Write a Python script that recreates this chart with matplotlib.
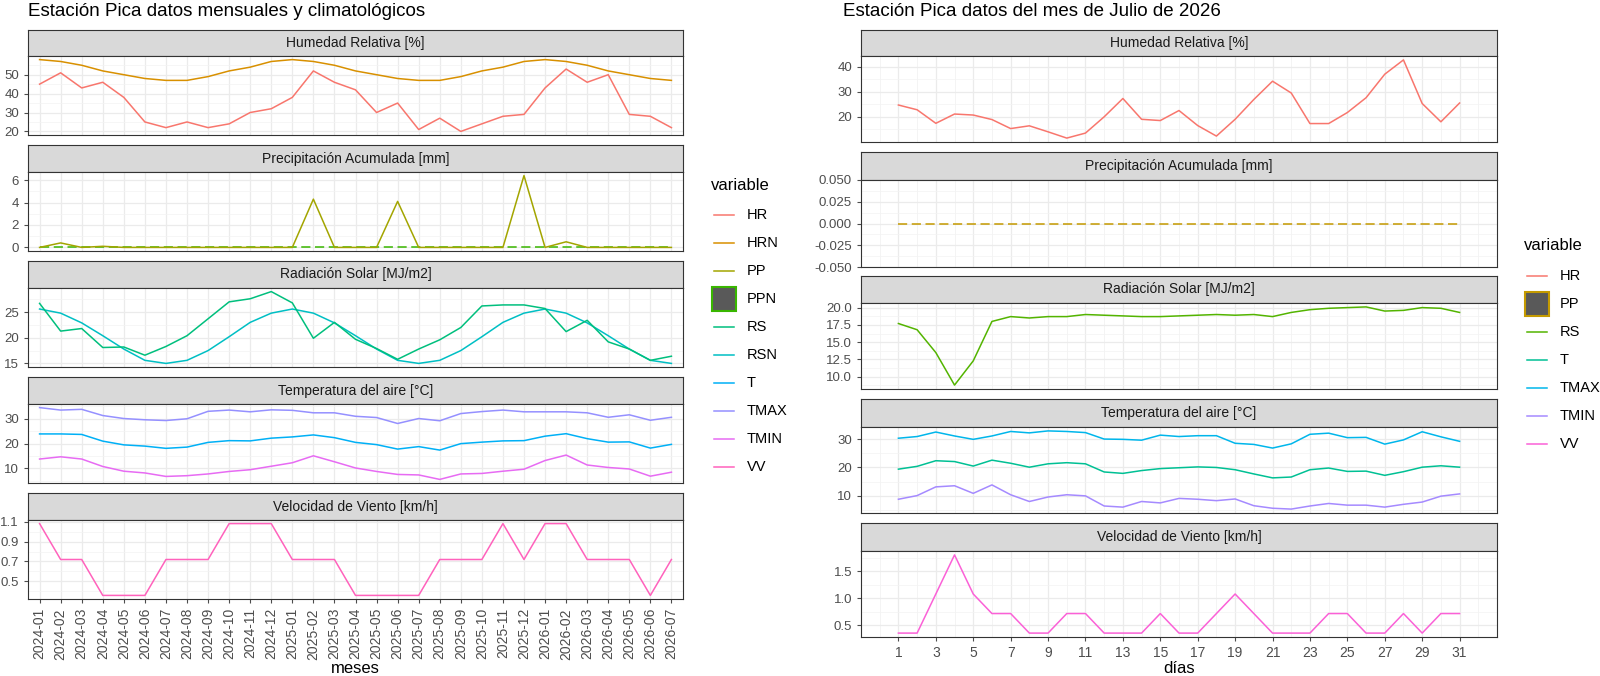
import matplotlib
matplotlib.use("Agg")
import matplotlib.pyplot as plt
from matplotlib.patches import Rectangle
from matplotlib.lines import Line2D
from matplotlib.ticker import MultipleLocator, FixedLocator

plt.rcParams['font.family'] = ['Liberation Sans', 'DejaVu Sans']

# ---- datos mensuales ----
meses = ['2024-01', '2024-02', '2024-03', '2024-04', '2024-05', '2024-06', '2024-07', '2024-08',
         '2024-09', '2024-10', '2024-11', '2024-12', '2025-01', '2025-02', '2025-03', '2025-04',
         '2025-05', '2025-06', '2025-07', '2025-08', '2025-09', '2025-10', '2025-11', '2025-12',
         '2026-01', '2026-02', '2026-03', '2026-04', '2026-05', '2026-06', '2026-07']
hr_m = [45, 51, 43, 46, 38, 25, 22, 25, 22, 24, 30, 32, 38, 52, 46, 42, 30, 35, 21, 27, 20, 24,
        28, 29, 43, 53, 46, 50, 29, 28, 22]
hrn_m = [58, 57, 55, 52, 50, 48, 47, 47, 49, 52, 54, 57, 58, 57, 55, 52, 50, 48, 47, 47, 49, 52,
         54, 57, 58, 57, 55, 52, 50, 48, 47]
pp_m = [0, 0.4, 0, 0.1, 0, 0, 0, 0, 0, 0, 0, 0, 0, 4.3, 0, 0, 0, 4.1, 0, 0, 0, 0, 0, 6.4, 0, 0.5,
        0, 0, 0, 0, 0]
ppn_m = [0] * 31
rs_m = [26.7, 21.3, 21.8, 18.1, 18.2, 16.6, 18.3, 20.4, 23.7, 27.0, 27.6, 29.0, 26.8, 19.9, 23.0,
        19.7, 17.9, 15.8, 17.8, 19.6, 22.0, 26.2, 26.4, 26.4, 25.7, 21.2, 23.4, 19.2, 17.8, 15.6, 16.4]
rsn_m = [25.6, 24.8, 22.9, 20.4, 17.8, 15.6, 15.0, 15.6, 17.5, 20.2, 23.0, 24.8, 25.6, 24.8, 22.9,
         20.4, 17.8, 15.6, 15.0, 15.6, 17.5, 20.2, 23.0, 24.8, 25.6, 24.8, 22.9, 20.4, 17.8, 15.6, 15.0]
tmax_m = [34.5, 33.5, 33.8, 31.3, 30.1, 29.6, 29.3, 30.0, 33.0, 33.5, 32.8, 33.6, 33.4, 32.4, 32.4,
          31.0, 30.5, 28.1, 30.1, 29.2, 32.1, 32.9, 33.5, 32.8, 32.8, 32.8, 32.4, 30.6, 31.6, 29.4, 30.6]
t_m = [23.9, 23.9, 23.7, 21.0, 19.5, 19.0, 18.1, 18.6, 20.5, 21.2, 21.1, 22.2, 22.7, 23.5, 22.4,
       20.5, 19.6, 17.8, 18.8, 17.4, 20.0, 20.6, 21.1, 21.2, 23.0, 24.0, 22.0, 20.6, 20.7, 18.2, 19.7]
tmin_m = [13.8, 14.7, 13.8, 10.8, 8.9, 8.2, 6.8, 7.1, 7.8, 8.8, 9.5, 10.9, 12.3, 15.1, 12.7, 10.2,
          8.8, 7.6, 7.4, 5.6, 7.8, 8.0, 8.9, 9.7, 13.2, 15.4, 11.4, 10.4, 9.8, 6.9, 8.5]
vv_m = [1.08, 0.72, 0.72, 0.36, 0.36, 0.36, 0.72, 0.72, 0.72, 1.08, 1.08, 1.08, 0.72, 0.72, 0.72,
        0.36, 0.36, 0.36, 0.36, 0.72, 0.72, 0.72, 1.08, 0.72, 1.08, 1.08, 0.72, 0.72, 0.72, 0.36, 0.72]

# ---- datos diarios julio 2026 ----
dias = list(range(1, 32))
hr_d = [24.7, 22.8, 17.4, 21.1, 20.7, 18.9, 15.3, 16.4, 14.0, 11.5, 13.5, 20.0, 27.3, 19.0, 18.5,
        22.5, 16.5, 12.3, 19.0, 26.9, 34.2, 29.5, 17.3, 17.3, 21.7, 27.6, 37.0, 42.7, 25.3, 18.0, 25.5]
pp_d = [0] * 31
rs_d = [17.7, 16.8, 13.5, 8.8, 12.3, 18.0, 18.7, 18.5, 18.7, 18.7, 19.0, 18.9, 18.8, 18.7, 18.7,
        18.8, 18.9, 19.0, 18.9, 19.0, 18.7, 19.3, 19.7, 19.9, 20.0, 20.1, 19.5, 19.6, 20.0, 19.9, 19.3]
tmax_d = [30.4, 31.0, 32.6, 31.2, 30.0, 31.2, 32.8, 32.3, 33.0, 32.8, 32.4, 30.1, 30.0, 29.7, 31.5,
          31.0, 31.3, 31.3, 28.6, 28.2, 26.9, 28.4, 31.8, 32.2, 30.6, 30.7, 28.3, 29.8, 32.7, 30.9, 29.3]
t_d = [19.4, 20.4, 22.4, 22.1, 20.5, 22.6, 21.5, 20.1, 21.3, 21.7, 21.3, 18.4, 17.9, 18.9, 19.6,
       19.9, 20.2, 20.0, 19.2, 17.7, 16.3, 16.6, 19.2, 19.8, 18.6, 18.7, 17.2, 18.5, 20.1, 20.6, 20.1]
tmin_d = [8.7, 10.0, 13.1, 13.5, 10.8, 13.8, 10.3, 7.9, 9.5, 10.3, 9.9, 6.3, 5.9, 7.9, 7.4, 9.0,
          8.7, 8.2, 8.8, 6.4, 5.5, 5.2, 6.3, 7.2, 6.6, 6.6, 5.9, 6.9, 7.7, 9.8, 10.6]
vv_d = [0.36, 0.36, 1.08, 1.8, 1.08, 0.72, 0.72, 0.36, 0.36, 0.72, 0.72, 0.36, 0.36, 0.36, 0.72,
        0.36, 0.36, 0.72, 1.08, 0.72, 0.36, 0.36, 0.36, 0.72, 0.72, 0.36, 0.36, 0.72, 0.36, 0.72, 0.72]

# colores ggplot
cl = {'HR': '#F8766D', 'HRN': '#D89000', 'PP': '#A3A500', 'PPN': '#39B600', 'RS': '#00BF7D',
      'RSN': '#00BFC4', 'T': '#00B0F6', 'TMAX': '#9590FF', 'TMIN': '#E76BF3', 'VV': '#FF62BC'}
cr = {'HR': '#F8766D', 'PP': '#C49A00', 'RS': '#53B400', 'T': '#00C094', 'TMAX': '#00B6EB',
      'TMIN': '#A58AFF', 'VV': '#FB61D7'}

W, H = 1600, 676
fig = plt.figure(figsize=(16, 6.76), dpi=100)


def box(x0, y0, x1, y1):
    return [x0 / W, 1 - y1 / H, (x1 - x0) / W, (y1 - y0) / H]


def panel(x0, x1, st, pt, pb, title, ymajor, xlim, daily=False, bottom=False):
    s = fig.add_axes(box(x0, st, x1, pt))
    s.set_xticks([]); s.set_yticks([])
    s.set_facecolor('#D9D9D9')
    for sp in s.spines.values():
        sp.set_color('#333333'); sp.set_linewidth(0.8)
    s.text(0.5, 0.5, title, ha='center', va='center', fontsize=10, color='#1A1A1A',
           transform=s.transAxes)
    ax = fig.add_axes(box(x0, pt, x1, pb))
    for sp in ax.spines.values():
        sp.set_color('#333333'); sp.set_linewidth(0.8)
    ax.set_xlim(*xlim)
    ax.yaxis.set_major_locator(FixedLocator(ymajor))
    step = ymajor[1] - ymajor[0]
    minors = [ymajor[0] - step / 2] + [v + step / 2 for v in ymajor]
    ax.yaxis.set_minor_locator(FixedLocator(minors))
    if daily:
        ax.xaxis.set_major_locator(FixedLocator(dias[::2]))
        ax.xaxis.set_minor_locator(FixedLocator(list(range(0, 34))))
        ax.grid(True, which='minor', axis='x', color='#F3F3F3', lw=0.6)
        ax.tick_params(axis='x', which='minor', length=0)
    else:
        ax.set_xticks(list(range(len(meses))))
    ax.grid(True, which='major', color='#EBEBEB', lw=0.9)
    ax.grid(True, which='minor', axis='y', color='#F3F3F3', lw=0.5)
    ax.tick_params(axis='y', which='minor', length=0)
    ax.tick_params(labelsize=9.5, colors='#4D4D4D', length=3, width=0.8)
    if bottom:
        ax.tick_params(axis='x', labelsize=10)
    else:
        ax.tick_params(axis='x', which='both', labelbottom=False, length=0)
    ax.set_axisbelow(True)
    return ax


lw = 1.1
xm = list(range(len(meses)))
lx = (-0.55, 30.55)
L0, L1 = 28, 683
a = panel(L0, L1, 30, 56, 135, 'Humedad Relativa [%]', [20, 30, 40, 50], lx)
a.plot(xm, hr_m, color=cl['HR'], lw=lw)
a.plot(xm, hrn_m, color=cl['HRN'], lw=lw)
a = panel(L0, L1, 145, 172, 251, 'Precipitación Acumulada [mm]', [0, 2, 4, 6], lx)
a.plot(xm, ppn_m, color=cl['PPN'], lw=lw, ls=(0, (6, 3)))
a.plot(xm, pp_m, color=cl['PP'], lw=lw)
a = panel(L0, L1, 261, 288, 367, 'Radiación Solar [MJ/m2]', [15, 20, 25], lx)
a.plot(xm, rsn_m, color=cl['RSN'], lw=lw)
a.plot(xm, rs_m, color=cl['RS'], lw=lw)
a = panel(L0, L1, 377, 404, 483, 'Temperatura del aire [°C]', [10, 20, 30], lx)
a.plot(xm, t_m, color=cl['T'], lw=lw)
a.plot(xm, tmax_m, color=cl['TMAX'], lw=lw)
a.plot(xm, tmin_m, color=cl['TMIN'], lw=lw)
a = panel(L0, L1, 493, 520, 599, 'Velocidad de Viento [km/h]', [0.5, 0.7, 0.9, 1.1], lx, bottom=True)
a.plot(xm, vv_m, color=cl['VV'], lw=lw)
a.set_xticklabels(meses, rotation=90)
a.set_xlabel('meses', fontsize=12, labelpad=1)

rx = (-1, 33)
R0, R1 = 861, 1497
a = panel(R0, R1, 30, 56, 142, 'Humedad Relativa [%]', [20, 30, 40], rx, True)
a.plot(dias, hr_d, color=cr['HR'], lw=lw)
a = panel(R0, R1, 152, 180, 267, 'Precipitación Acumulada [mm]', [-0.05, -0.025, 0, 0.025, 0.05], rx, True)
a.plot(dias, pp_d, color=cr['PP'], lw=lw, ls=(0, (6, 3)))
a.set_ylim(-0.05, 0.05)
a.set_yticklabels(['-0.050', '-0.025', '0.000', '0.025', '0.050'])
a = panel(R0, R1, 276, 303, 389, 'Radiación Solar [MJ/m2]', [10, 12.5, 15, 17.5, 20], rx, True)
a.plot(dias, rs_d, color=cr['RS'], lw=lw)
a.set_yticklabels(['10.0', '12.5', '15.0', '17.5', '20.0'])
a = panel(R0, R1, 399, 427, 513, 'Temperatura del aire [°C]', [10, 20, 30], rx, True)
a.plot(dias, tmax_d, color=cr['TMAX'], lw=lw)
a.plot(dias, t_d, color=cr['T'], lw=lw)
a.plot(dias, tmin_d, color=cr['TMIN'], lw=lw)
a = panel(R0, R1, 523, 551, 637, 'Velocidad de Viento [km/h]', [0.5, 1.0, 1.5], rx, True, True)
a.plot(dias, vv_d, color=cr['VV'], lw=lw)
a.set_yticklabels(['0.5', '1.0', '1.5'])
a.set_xlabel('días', fontsize=12, labelpad=1)

fig.text(L0 / W, 1 - 11 / H, 'Estación Pica datos mensuales y climatológicos', fontsize=13.5,
         va='center', ha='left')
fig.text(843 / W, 1 - 11 / H, 'Estación Pica datos del mes de Julio de 2026', fontsize=13.5,
         va='center', ha='left')


def legend(x, ytitle, colors, boxed, y0):
    fig.text(x / W, 1 - ytitle / H, 'variable', fontsize=12, va='center')
    for i, (k, c) in enumerate(colors.items()):
        y = y0 + i * 28
        if k == boxed:
            fig.patches.append(Rectangle(((x + 1) / W, 1 - (y + 12) / H), 24 / W, 24 / H,
                                         transform=fig.transFigure, facecolor='#595959',
                                         edgecolor=c, lw=1.5))
        else:
            fig.lines.append(Line2D([(x + 3) / W, (x + 23) / W], [1 - y / H] * 2,
                                    transform=fig.transFigure, color=c, lw=1.1))
        fig.text((x + 36) / W, 1 - y / H, k, fontsize=10.5, va='center')


legend(711, 185, cl, 'PPN', 215)
legend(1524, 245, cr, 'PP', 276)

fig.savefig('out.png', dpi=100)
